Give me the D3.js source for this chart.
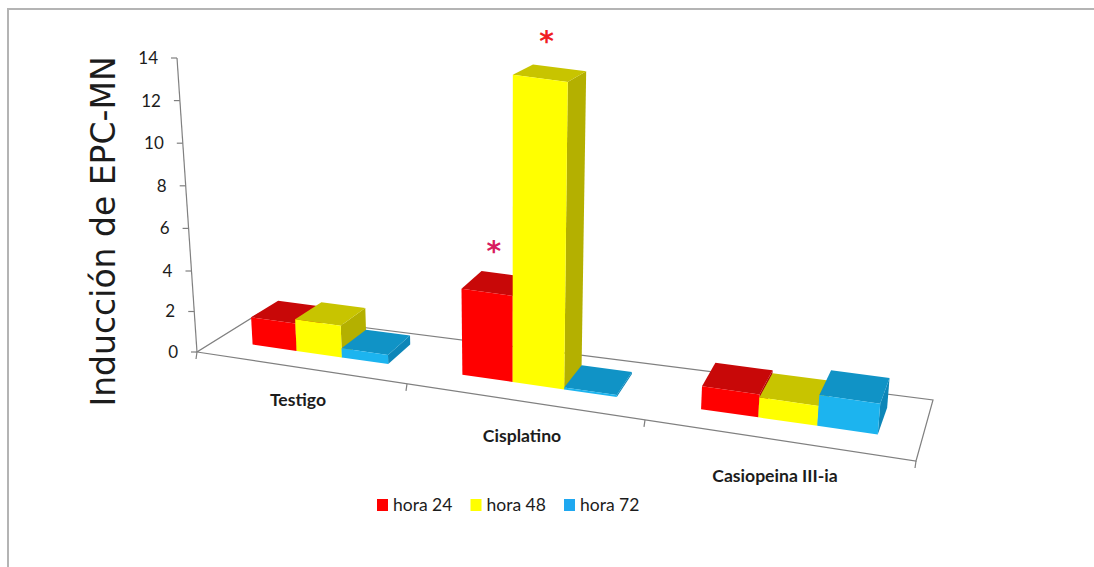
<!DOCTYPE html>
<html>
<head>
<meta charset="utf-8">
<script src="https://cdn.jsdelivr.net/npm/d3@7"></script>
<style>html,body{margin:0;padding:0;background:#fff}svg{display:block}</style>
</head>
<body>
<svg id="chart" width="1094" height="567"></svg>
<script>
const categories = ["Testigo", "Cisplatino", "Casiopeina III-ia"];
const seriesNames = ["hora 24", "hora 48", "hora 72"];
const hora24 = [1.25, 3.5, 0.84];
const hora48 = [1.45, 12.5, 0.73];
const hora72 = [0.42, 0.08, 1.13];
const yTicks = [0, 2, 4, 6, 8, 10, 12, 14];
const markers = [
  {cat: 1, ser: 0, symbol: "*", color: "#d81b60"},
  {cat: 1, ser: 1, symbol: "*", color: "#f01c24"}
];
const allSeries = [hora24, hora48, hora72];

const frontColors = ["#ff0000", "#ffff00", "#1cb4ef"];
const topColors   = ["#c80808", "#c8c400", "#1093c6"];
const sideColors  = ["#b00000", "#b4b000", "#0d86b8"];
const lineColor = "#808080";
const inkColor = "#1c1c1c";

const svg = d3.select("#chart");

// Perspective floor: category position u and depth d map to the page
const frontX = d3.scaleLinear().domain([0, 0.5, 1, 1.5, 2, 2.5, 3]).range([197, 298, 407, 522, 645, 775, 916]);
const backX  = d3.scaleLinear().domain([0, 1, 2, 3]).range([258, 452, 675, 933]);
const frontY = d3.scaleLinear().domain([197, 916]).range([352, 461]);
const backY  = d3.scaleLinear().domain([258, 933]).range([314, 400]);
const unitPx = d3.scaleLinear().domain([0, 3]).range([21, 29.5]);
const axisY  = d3.scaleLinear().domain([0, 4, 14]).range([352, 271, 58]);
const axisX  = d3.scaleLinear().domain([352, 58]).range([197, 177]);
const lean   = d3.scaleLinear().domain([197, 510, 875]).range([-0.068, 0, 0.079]);

function project(u, d, v) {
  const fx = frontX(u), bx = backX(u);
  const x = fx + (bx - fx) * d;
  const fy = frontY(fx), by = backY(bx);
  const y = fy + (by - fy) * d;
  const h = v * unitPx(Math.min(Math.floor(u), 2) + 0.5) * (1 - 0.08 * d);
  return [x + lean(x) * h, y - h];
}

const serBand = d3.scaleBand().domain(d3.range(seriesNames.length)).range([0.178, 0.84]).paddingInner(0);
const depthFront = 0.33, depthBack = 0.78;
const poly = d3.line();

// frame
svg.append("path").attr("d", poly([[8, 567], [8, 9], [1094, 9]]))
  .attr("fill", "none").attr("stroke", "#b4b4b4").attr("stroke-width", 2);

// floor
const floorPts = [[0, 0], [3, 0], [3, 1], [0, 1]].map(([u, d]) => project(u, d, 0));
svg.append("path").attr("d", poly(floorPts) + "Z")
  .attr("fill", "none").attr("stroke", lineColor).attr("stroke-width", 1.2);

// category ticks
d3.range(0, categories.length + 1).forEach(i => {
  const p = project(i, 0, 0);
  svg.append("line").attr("x1", p[0]).attr("y1", p[1]).attr("x2", p[0] - 1).attr("y2", p[1] + 7)
    .attr("stroke", lineColor).attr("stroke-width", 1.2);
});

// value axis
svg.append("line")
  .attr("x1", axisX(axisY(0))).attr("y1", axisY(0))
  .attr("x2", axisX(axisY(14))).attr("y2", axisY(14))
  .attr("stroke", lineColor).attr("stroke-width", 1.2);
const yAxis = svg.append("g").selectAll("g").data(yTicks).join("g");
yAxis.append("line")
  .attr("x1", v => axisX(axisY(v))).attr("x2", v => axisX(axisY(v)) - 6)
  .attr("y1", v => axisY(v)).attr("y2", v => axisY(v))
  .attr("stroke", lineColor).attr("stroke-width", 1.2);
yAxis.append("text")
  .attr("x", v => axisX(axisY(v)) - 19).attr("y", v => axisY(v))
  .attr("dy", "0.35em").attr("text-anchor", "end")
  .attr("font-family", "Lato").attr("font-size", 17).attr("fill", inkColor)
  .text(v => v);

// bars
categories.forEach((c, ci) => {
  allSeries.forEach((vals, si) => {
    const u0 = ci + serBand(si), u1 = u0 + serBand.bandwidth();
    const v = vals[ci];
    const a = project(u0, depthFront, 0), b = project(u1, depthFront, 0),
          c2 = project(u1, depthBack, 0);
    const at = project(u0, depthFront, v), bt = project(u1, depthFront, v),
          ct = project(u1, depthBack, v), dt = project(u0, depthBack, v);
    const g = svg.append("g");
    g.append("path").attr("d", poly([b, c2, ct, bt]) + "Z").attr("fill", sideColors[si]);
    g.append("path").attr("d", poly([at, bt, ct, dt]) + "Z").attr("fill", topColors[si]);
    g.append("path").attr("d", poly([a, b, bt, at]) + "Z").attr("fill", frontColors[si]);
  });
});

// significance markers
markers.forEach(m => {
  const u = m.cat + serBand(m.ser) + serBand.bandwidth() / 2;
  const p = project(u, (depthFront + depthBack) / 2, allSeries[m.ser][m.cat]);
  svg.append("text").attr("x", p[0] - 3).attr("y", p[1] - 22)
    .attr("text-anchor", "middle").attr("font-family", "DejaVu Sans").attr("font-weight", 700)
    .attr("font-size", 28).attr("fill", m.color).text(m.symbol);
});

// category labels
categories.forEach((c, i) => {
  const p = project(i + 0.5, 0, 0);
  svg.append("text").attr("x", p[0]).attr("y", p[1] + 39 + i * 1.5)
    .attr("text-anchor", "middle").attr("font-family", "Lato").attr("font-weight", 700)
    .attr("font-size", 17.6).attr("fill", inkColor).text(c);
});

// axis title
svg.append("text")
  .attr("transform", "translate(115,231.5) rotate(-90)")
  .attr("text-anchor", "middle").attr("font-family", "DejaVu Sans")
  .attr("font-size", 33).attr("fill", inkColor).text("Inducción de EPC-MN");

// legend
const legendX = d3.scalePoint().domain(seriesNames).range([377, 564]);
const legend = svg.append("g").selectAll("g").data(seriesNames).join("g")
  .attr("transform", s => `translate(${legendX(s)},499)`);
legend.append("rect").attr("width", 11).attr("height", 12)
  .attr("fill", (s, i) => ["#ff0000", "#ffff00", "#1fa8f0"][i]);
legend.append("text").attr("x", 16).attr("y", 12)
  .attr("font-family", "Lato").attr("font-size", 17.5).attr("fill", inkColor).text(s => s);
</script>
</body>
</html>
